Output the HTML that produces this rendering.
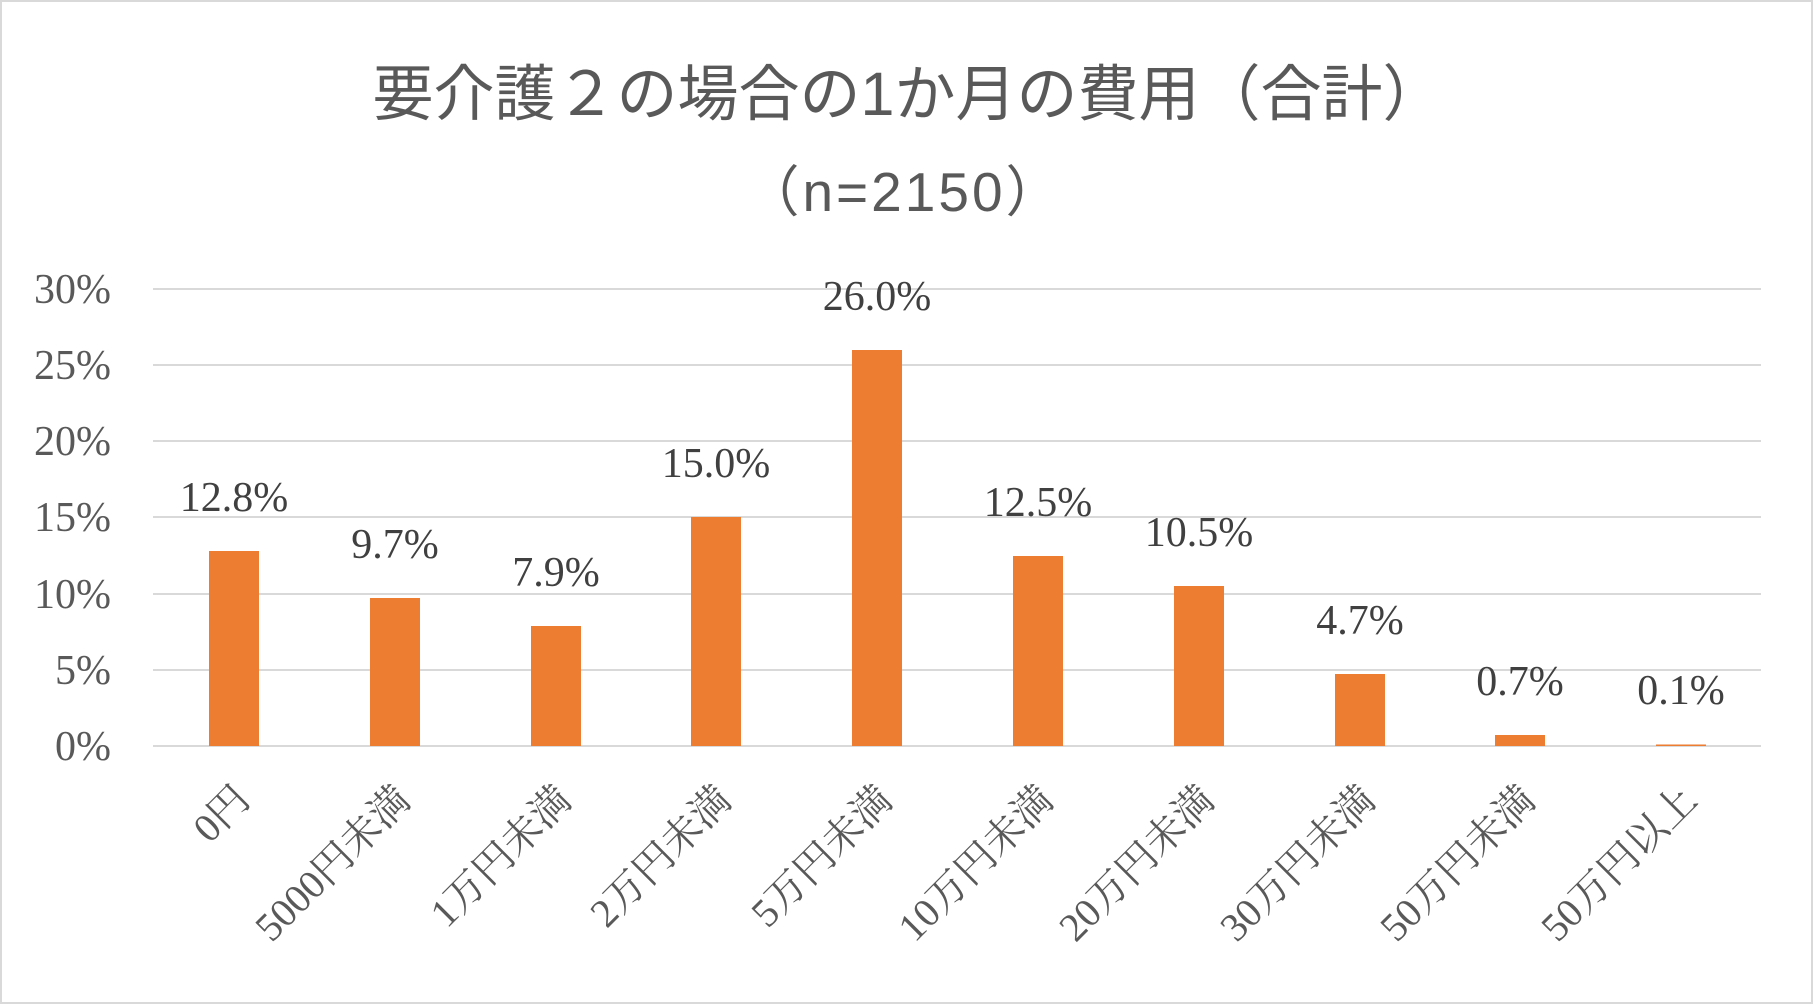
<!DOCTYPE html>
<html><head><meta charset="utf-8"><style>
html,body{margin:0;padding:0;background:#fff}
svg{display:block}
</style></head><body>
<svg width="1813" height="1004" viewBox="0 0 1813 1004" xmlns="http://www.w3.org/2000/svg">
<rect x="1" y="1" width="1811" height="1002" fill="#fff" stroke="#d9d9d9" stroke-width="2"/>
<g font-family="'Liberation Sans','Noto Sans CJK JP',sans-serif" fill="#595959" text-anchor="middle">
<text x="908" y="115" font-size="61">要介護２の場合の1か月の費用（合計）</text>
<text x="904" y="211" font-size="55" letter-spacing="3">（n=2150）</text>
</g>
<g stroke="#d9d9d9" stroke-width="2">
<line x1="153" x2="1761" y1="289" y2="289"/>
<line x1="153" x2="1761" y1="365" y2="365"/>
<line x1="153" x2="1761" y1="441" y2="441"/>
<line x1="153" x2="1761" y1="517" y2="517"/>
<line x1="153" x2="1761" y1="594" y2="594"/>
<line x1="153" x2="1761" y1="670" y2="670"/>
<line x1="153" x2="1761" y1="746" y2="746"/>
</g>
<g font-family="'Liberation Serif','Noto Serif CJK SC',serif" fill="#595959" font-size="42" text-anchor="end">
<text x="111" y="303">30%</text>
<text x="111" y="379">25%</text>
<text x="111" y="455">20%</text>
<text x="111" y="531">15%</text>
<text x="111" y="608">10%</text>
<text x="111" y="684">5%</text>
<text x="111" y="760">0%</text>
</g>
<g fill="#ed7d31">
<rect x="209" y="551" width="50" height="195"/>
<rect x="370" y="598" width="50" height="148"/>
<rect x="531" y="626" width="50" height="120"/>
<rect x="691" y="517" width="50" height="229"/>
<rect x="852" y="350" width="50" height="396"/>
<rect x="1013" y="556" width="50" height="190"/>
<rect x="1174" y="586" width="50" height="160"/>
<rect x="1335" y="674" width="50" height="72"/>
<rect x="1495" y="735" width="50" height="11"/>
<rect x="1656" y="744.5" width="50" height="1.5"/>
</g>
<g font-family="'Liberation Serif','Noto Serif CJK SC',serif" fill="#404040" font-size="42" text-anchor="middle">
<text x="234" y="511">12.8%</text>
<text x="395" y="558">9.7%</text>
<text x="556" y="586">7.9%</text>
<text x="716" y="477">15.0%</text>
<text x="877" y="310">26.0%</text>
<text x="1038" y="516">12.5%</text>
<text x="1199" y="546">10.5%</text>
<text x="1360" y="634">4.7%</text>
<text x="1520" y="695">0.7%</text>
<text x="1681" y="704">0.1%</text>
</g>
<g font-family="'Liberation Serif','Noto Serif CJK SC',serif" fill="#595959" font-size="40" text-anchor="end">
<text transform="translate(252,802) rotate(-45)">0円</text>
<text transform="translate(413,802) rotate(-45)">5000円未満</text>
<text transform="translate(574,802) rotate(-45)">1万円未満</text>
<text transform="translate(734,802) rotate(-45)">2万円未満</text>
<text transform="translate(895,802) rotate(-45)">5万円未満</text>
<text transform="translate(1056,802) rotate(-45)">10万円未満</text>
<text transform="translate(1217,802) rotate(-45)">20万円未満</text>
<text transform="translate(1378,802) rotate(-45)">30万円未満</text>
<text transform="translate(1538,802) rotate(-45)">50万円未満</text>
<text transform="translate(1699,802) rotate(-45)">50万円以上</text>
</g>
</svg>
</body></html>
